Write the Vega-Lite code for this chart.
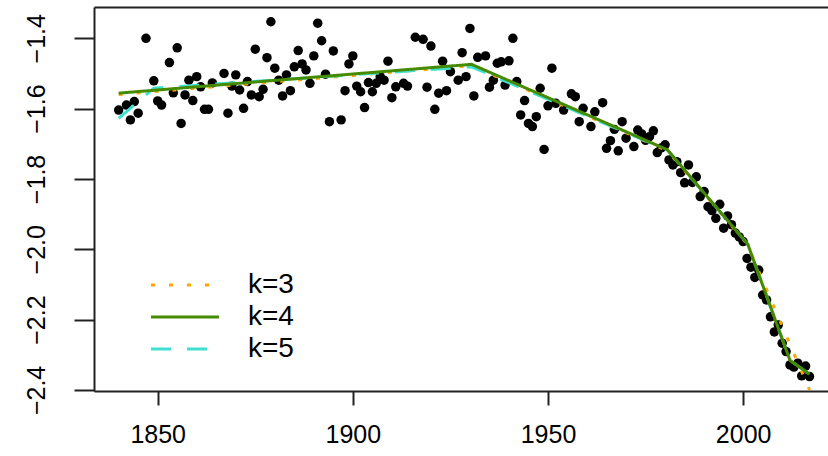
{
  "$schema": "https://vega.github.io/schema/vega-lite/v6.json",
  "width": 734,
  "height": 384,
  "autosize": {"type": "none"},
  "padding": {"left": 94, "top": 7, "right": 0, "bottom": 65},
  "background": "white",
  "config": {
    "view": {"stroke": null},
    "font": "Liberation Sans",
    "axis": {"labelFont": "Liberation Sans", "labelFontSize": 25, "labelColor": "black", "domainColor": "#222", "domainWidth": 2, "tickColor": "#222", "tickWidth": 2, "grid": false, "title": null},
    "legend": {"orient": "none", "legendX": 77, "legendY": 264, "symbolType": "M-3,0H3", "symbolSize": 514, "symbolStrokeWidth": 3, "labelFont": "Liberation Sans", "labelFontSize": 28, "labelColor": "black", "labelOffset": 49, "rowPadding": 4, "title": null}
  },
  "datasets": {
    "pts": [
      {"year": 1840, "value": -1.604}, {"year": 1842, "value": -1.590}, {"year": 1843, "value": -1.632}, {"year": 1844, "value": -1.580}, {"year": 1845, "value": -1.613},
      {"year": 1847, "value": -1.400}, {"year": 1849, "value": -1.521}, {"year": 1850, "value": -1.578}, {"year": 1851, "value": -1.590}, {"year": 1853, "value": -1.469},
      {"year": 1854, "value": -1.555}, {"year": 1855, "value": -1.427}, {"year": 1856, "value": -1.642}, {"year": 1857, "value": -1.561}, {"year": 1858, "value": -1.519},
      {"year": 1859, "value": -1.577}, {"year": 1860, "value": -1.509}, {"year": 1861, "value": -1.538}, {"year": 1862, "value": -1.602}, {"year": 1863, "value": -1.602},
      {"year": 1864, "value": -1.527}, {"year": 1867, "value": -1.500}, {"year": 1868, "value": -1.613}, {"year": 1869, "value": -1.536}, {"year": 1870, "value": -1.504},
      {"year": 1871, "value": -1.547}, {"year": 1872, "value": -1.599}, {"year": 1873, "value": -1.523}, {"year": 1874, "value": -1.561}, {"year": 1875, "value": -1.431},
      {"year": 1876, "value": -1.566}, {"year": 1877, "value": -1.545}, {"year": 1878, "value": -1.455}, {"year": 1879, "value": -1.353}, {"year": 1880, "value": -1.485},
      {"year": 1881, "value": -1.519}, {"year": 1882, "value": -1.564}, {"year": 1883, "value": -1.504}, {"year": 1884, "value": -1.549}, {"year": 1885, "value": -1.481},
      {"year": 1886, "value": -1.435}, {"year": 1887, "value": -1.473}, {"year": 1888, "value": -1.490}, {"year": 1889, "value": -1.528}, {"year": 1890, "value": -1.450},
      {"year": 1891, "value": -1.357}, {"year": 1892, "value": -1.407}, {"year": 1893, "value": -1.502}, {"year": 1894, "value": -1.637}, {"year": 1895, "value": -1.436},
      {"year": 1897, "value": -1.632}, {"year": 1898, "value": -1.549}, {"year": 1899, "value": -1.473}, {"year": 1900, "value": -1.450}, {"year": 1901, "value": -1.536},
      {"year": 1902, "value": -1.552}, {"year": 1903, "value": -1.597}, {"year": 1904, "value": -1.526}, {"year": 1905, "value": -1.552}, {"year": 1906, "value": -1.528},
      {"year": 1907, "value": -1.509}, {"year": 1908, "value": -1.519}, {"year": 1909, "value": -1.465}, {"year": 1910, "value": -1.569}, {"year": 1911, "value": -1.538},
      {"year": 1913, "value": -1.528}, {"year": 1914, "value": -1.536}, {"year": 1916, "value": -1.397}, {"year": 1918, "value": -1.403}, {"year": 1919, "value": -1.539},
      {"year": 1920, "value": -1.422}, {"year": 1921, "value": -1.602}, {"year": 1922, "value": -1.556}, {"year": 1923, "value": -1.465}, {"year": 1924, "value": -1.549},
      {"year": 1925, "value": -1.495}, {"year": 1927, "value": -1.519}, {"year": 1928, "value": -1.441}, {"year": 1929, "value": -1.509}, {"year": 1930, "value": -1.372},
      {"year": 1931, "value": -1.564}, {"year": 1932, "value": -1.454}, {"year": 1934, "value": -1.450}, {"year": 1935, "value": -1.539}, {"year": 1936, "value": -1.519},
      {"year": 1937, "value": -1.471}, {"year": 1938, "value": -1.467}, {"year": 1939, "value": -1.533}, {"year": 1940, "value": -1.464}, {"year": 1941, "value": -1.400},
      {"year": 1942, "value": -1.523}, {"year": 1943, "value": -1.618}, {"year": 1944, "value": -1.577}, {"year": 1945, "value": -1.642}, {"year": 1946, "value": -1.651},
      {"year": 1947, "value": -1.623}, {"year": 1948, "value": -1.542}, {"year": 1949, "value": -1.716}, {"year": 1950, "value": -1.592}, {"year": 1951, "value": -1.485},
      {"year": 1952, "value": -1.585}, {"year": 1954, "value": -1.604}, {"year": 1956, "value": -1.558}, {"year": 1957, "value": -1.566}, {"year": 1958, "value": -1.637},
      {"year": 1959, "value": -1.599}, {"year": 1961, "value": -1.651}, {"year": 1962, "value": -1.609}, {"year": 1964, "value": -1.583}, {"year": 1965, "value": -1.713},
      {"year": 1966, "value": -1.691}, {"year": 1967, "value": -1.659}, {"year": 1968, "value": -1.720}, {"year": 1969, "value": -1.637}, {"year": 1970, "value": -1.684},
      {"year": 1972, "value": -1.708}, {"year": 1973, "value": -1.661}, {"year": 1974, "value": -1.672}, {"year": 1975, "value": -1.690}, {"year": 1976, "value": -1.680},
      {"year": 1977, "value": -1.663}, {"year": 1978, "value": -1.725}, {"year": 1979, "value": -1.712}, {"year": 1980, "value": -1.703}, {"year": 1981, "value": -1.746},
      {"year": 1982, "value": -1.760}, {"year": 1983, "value": -1.751}, {"year": 1984, "value": -1.782}, {"year": 1985, "value": -1.811}, {"year": 1986, "value": -1.760},
      {"year": 1987, "value": -1.810}, {"year": 1988, "value": -1.794}, {"year": 1989, "value": -1.850}, {"year": 1990, "value": -1.836}, {"year": 1991, "value": -1.879},
      {"year": 1992, "value": -1.890}, {"year": 1993, "value": -1.912}, {"year": 1994, "value": -1.872}, {"year": 1995, "value": -1.940}, {"year": 1996, "value": -1.905},
      {"year": 1997, "value": -1.930}, {"year": 1998, "value": -1.954}, {"year": 1999, "value": -1.965}, {"year": 2000, "value": -1.978}, {"year": 2001, "value": -2.026},
      {"year": 2002, "value": -2.051}, {"year": 2003, "value": -2.080}, {"year": 2004, "value": -2.059}, {"year": 2005, "value": -2.130}, {"year": 2006, "value": -2.144},
      {"year": 2007, "value": -2.192}, {"year": 2008, "value": -2.235}, {"year": 2009, "value": -2.215}, {"year": 2010, "value": -2.267}, {"year": 2011, "value": -2.291},
      {"year": 2012, "value": -2.329}, {"year": 2013, "value": -2.335}, {"year": 2014, "value": -2.324}, {"year": 2015, "value": -2.360}, {"year": 2016, "value": -2.332},
      {"year": 2017, "value": -2.362}
    ],
    "fits": [
      {"k": "k=3", "year": 1840, "value": -1.560}, {"k": "k=3", "year": 1930.4, "value": -1.478}, {"k": "k=3", "year": 1980.6, "value": -1.720}, {"k": "k=3", "year": 2001.0, "value": -1.985}, {"k": "k=3", "year": 2017.0, "value": -2.400},
      {"k": "k=4", "year": 1840, "value": -1.556}, {"k": "k=4", "year": 1930.4, "value": -1.474}, {"k": "k=4", "year": 1980.6, "value": -1.717}, {"k": "k=4", "year": 2001.2, "value": -1.986}, {"k": "k=4", "year": 2012.0, "value": -2.316}, {"k": "k=4", "year": 2017.0, "value": -2.355},
      {"k": "k=5", "year": 1840, "value": -1.628}, {"k": "k=5", "year": 1849.0, "value": -1.542}, {"k": "k=5", "year": 1930.4, "value": -1.481}, {"k": "k=5", "year": 1980.6, "value": -1.718}, {"k": "k=5", "year": 2001.2, "value": -1.986}, {"k": "k=5", "year": 2012.0, "value": -2.316}, {"k": "k=5", "year": 2017.0, "value": -2.355}
    ]
  },
  "resolve": {"axis": {"x": "independent"}},
  "layer": [
    {
      "data": {"name": "pts"},
      "mark": {"type": "circle", "size": 90, "color": "black", "opacity": 1},
      "encoding": {
        "x": {"field": "year", "type": "quantitative", "scale": {"domain": [1833.68, 2021.74], "nice": false, "zero": false},
              "axis": {"orient": "bottom", "values": [1850, 1900, 1950, 2000], "format": "d", "tickSize": 14, "labelPadding": 17, "labelBaseline": "top", "labelFlush": false}},
        "y": {"field": "value", "type": "quantitative", "scale": {"domain": [-2.403, -1.311], "nice": false, "zero": false},
              "axis": {"orient": "left", "values": [-2.4, -2.2, -2.0, -1.8, -1.6, -1.4], "format": ".1f", "tickSize": 20, "labelAngle": 270, "labelAlign": "center", "labelBaseline": "bottom", "labelPadding": 25, "labelFlush": false}}
      }
    },
    {
      "data": {"name": "fits"},
      "transform": [{"filter": "datum.k === 'k=3'"}],
      "mark": {"type": "line", "strokeWidth": 3, "clip": true},
      "encoding": {
        "x": {"field": "year", "type": "quantitative", "axis": {"orient": "top", "labels": false, "ticks": false, "domain": true}},
        "y": {"field": "value", "type": "quantitative"},
        "order": {"field": "year", "type": "quantitative"},
        "color": {"field": "k", "type": "nominal", "scale": {"domain": ["k=3", "k=4", "k=5"], "range": ["#FFA500", "#458B00", "#40E0D0"]}},
        "strokeDash": {"field": "k", "type": "nominal", "scale": {"domain": ["k=3", "k=4", "k=5"], "range": [[4, 14], [1, 0], [20, 16]]}}
      }
    },
    {
      "data": {"name": "fits"},
      "transform": [{"filter": "datum.k === 'k=5'"}],
      "mark": {"type": "line", "strokeWidth": 3, "clip": true},
      "encoding": {
        "x": {"field": "year", "type": "quantitative", "axis": null},
        "y": {"field": "value", "type": "quantitative"},
        "order": {"field": "year", "type": "quantitative"},
        "color": {"field": "k", "type": "nominal", "scale": {"domain": ["k=3", "k=4", "k=5"], "range": ["#FFA500", "#458B00", "#40E0D0"]}},
        "strokeDash": {"field": "k", "type": "nominal", "scale": {"domain": ["k=3", "k=4", "k=5"], "range": [[4, 14], [1, 0], [20, 16]]}}
      }
    },
    {
      "data": {"name": "fits"},
      "transform": [{"filter": "datum.k === 'k=4'"}],
      "mark": {"type": "line", "strokeWidth": 3, "clip": true},
      "encoding": {
        "x": {"field": "year", "type": "quantitative", "axis": null},
        "y": {"field": "value", "type": "quantitative"},
        "order": {"field": "year", "type": "quantitative"},
        "color": {"field": "k", "type": "nominal", "scale": {"domain": ["k=3", "k=4", "k=5"], "range": ["#FFA500", "#458B00", "#40E0D0"]}},
        "strokeDash": {"field": "k", "type": "nominal", "scale": {"domain": ["k=3", "k=4", "k=5"], "range": [[4, 14], [1, 0], [20, 16]]}}
      }
    }
  ]
}
